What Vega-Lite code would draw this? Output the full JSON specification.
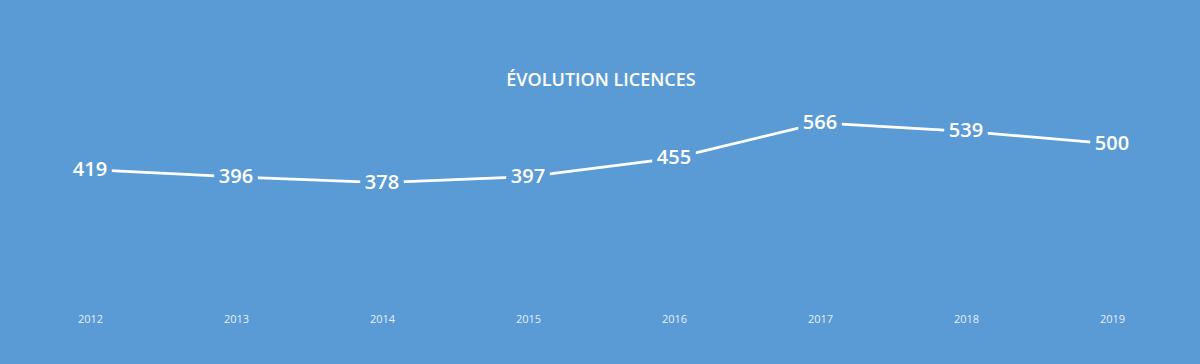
{
  "$schema": "https://vega.github.io/schema/vega-lite/v6.json",
  "autosize": "none",
  "width": 1168,
  "height": 191,
  "padding": {"left": 17, "right": 15, "top": 112, "bottom": 61},
  "background": "#5B9BD5",
  "config": {"view": {"stroke": null}, "font": "Open Sans"},
  "title": {
    "text": "ÉVOLUTION LICENCES",
    "color": "white",
    "font": "Open Sans",
    "fontSize": 18,
    "fontWeight": 600,
    "anchor": "middle",
    "baseline": "middle",
    "offset": 2
  },
  "data": {
    "values": [
      {"year": "2012", "licences": 419},
      {"year": "2013", "licences": 396},
      {"year": "2014", "licences": 378},
      {"year": "2015", "licences": 397},
      {"year": "2016", "licences": 455},
      {"year": "2017", "licences": 566},
      {"year": "2018", "licences": 539},
      {"year": "2019", "licences": 500}
    ]
  },
  "encoding": {
    "x": {
      "field": "year",
      "type": "ordinal",
      "scale": {"type": "point", "padding": 0.5},
      "axis": {
        "title": null,
        "domain": false,
        "ticks": false,
        "grid": false,
        "labelAngle": 0,
        "labelColor": "white",
        "labelOpacity": 0.85,
        "labelFont": "Open Sans",
        "labelFontSize": 11,
        "labelPadding": 10
      }
    },
    "y": {
      "field": "licences",
      "type": "quantitative",
      "scale": {"domain": [0, 600], "nice": false, "zero": true},
      "axis": null
    }
  },
  "layer": [
    {"mark": {"type": "line", "color": "white", "strokeWidth": 2.75}},
    {"mark": {"type": "point", "shape": "square", "size": 1900, "filled": true, "color": "#5B9BD5", "opacity": 1}},
    {
      "mark": {
        "type": "text",
        "color": "white",
        "font": "Open Sans",
        "fontSize": 20,
        "fontWeight": 600,
        "baseline": "middle",
        "align": "center"
      },
      "encoding": {"text": {"field": "licences", "type": "quantitative"}}
    }
  ]
}
